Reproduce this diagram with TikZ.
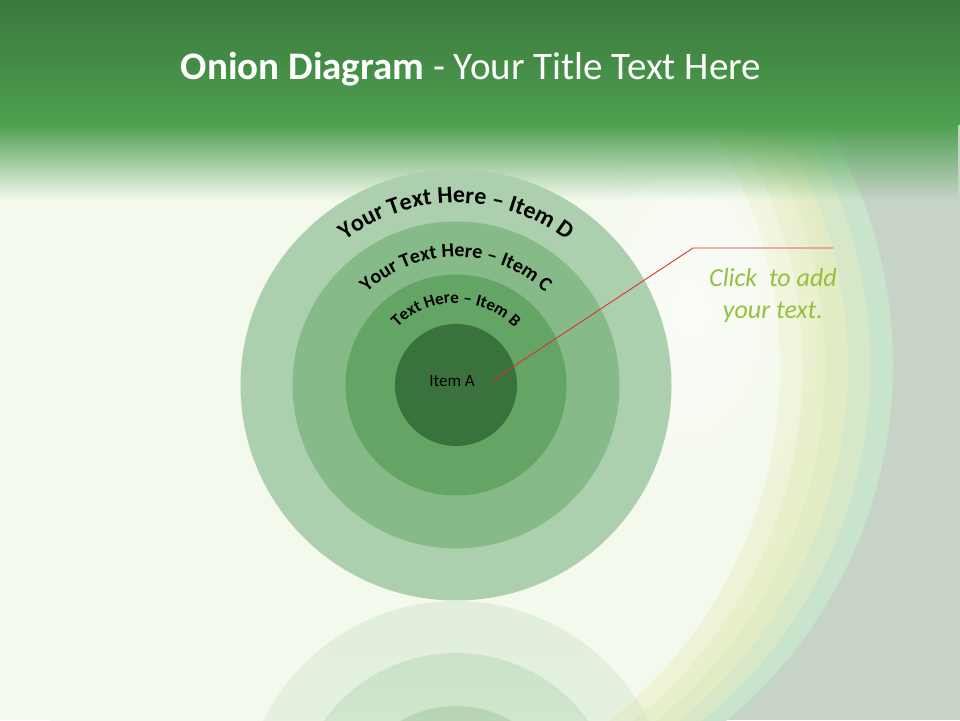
\documentclass[tikz,border=0pt]{standalone}
\usepackage{fontspec}
\setmainfont{Carlito}
\usepackage{tikz}
\usetikzlibrary{positioning, decorations.text, fadings}
\definecolor{HeaderTop}{RGB}{58,120,60}
\definecolor{HeaderBottom}{RGB}{78,160,80}
\definecolor{BackPale}{RGB}{243,249,236}
\definecolor{BackGrey}{RGB}{200,211,200}
\definecolor{BandA}{RGB}{200,228,204}
\definecolor{BandB}{RGB}{214,232,200}
\definecolor{BandC}{RGB}{226,236,196}
\definecolor{BandD}{RGB}{232,239,203}
\definecolor{BandE}{RGB}{238,243,216}
\definecolor{RingD}{RGB}{172,208,173}
\definecolor{RingC}{RGB}{134,186,136}
\definecolor{RingB}{RGB}{100,165,102}
\definecolor{RingA}{RGB}{57,114,60}
\definecolor{PointerRed}{RGB}{224,48,48}
\definecolor{ClickGreen}{RGB}{146,194,62}
\tikzfading[name=headfade, top color=transparent!0, middle color=transparent!75, bottom color=transparent!100]
\tikzfading[name=reflfade, top color=transparent!0, bottom color=transparent!100]
\tikzfading[name=glow, inner color=transparent!35, outer color=transparent!100]
\tikzstyle{ring} = [circle, inner sep=0pt, draw=none]
\tikzstyle{curvetext} = [decorate, decoration={text along path, text align=center}]
\tikzstyle{pointer} = [PointerRed, line width=0.9pt]
\newcommand{\itemDfont}{\bfseries\fontsize{24}{28}\selectfont}
\newcommand{\itemCfont}{\bfseries\fontsize{20}{24}\selectfont}
\newcommand{\itemBfont}{\bfseries\fontsize{17}{20}\selectfont}

\begin{document}
\begin{tikzpicture}[x=1pt,y=1pt]
  \useasboundingbox (0,0) rectangle (960,720);

  % Background and arcs
  \begin{scope}
    \clip (0,0) rectangle (960,720);
    \fill[BackGrey] (0,0) rectangle (960,720);
    \foreach \i/\col in {0/BandA,1/BandB,2/BandC,3/BandD,4/BandE} {
      \fill[\col] ({430-20*\i},{355-0.6*\i}) circle ({463-2.6*\i});
    }
    \fill[BackPale] (330,352) circle (450);
    \fill[BackPale] (0,0) rectangle (420,720);
    \fill[white, path fading=glow] (690,410) ellipse (140 and 240);
  \end{scope}

  % Header
  \fill[top color=HeaderTop, bottom color=HeaderBottom] (0,595) rectangle (960,720);
  \fill[HeaderBottom, path fading=headfade] (0,520) rectangle (960,595);
  \node[anchor=base, text=white, font=\fontsize{39}{47}\selectfont] (title) at (471,640)
    {\textbf{Onion Diagram} - Your Title Text Here};

  % Reflection
  \begin{scope}
    \clip (0,0) rectangle (960,720);
    \foreach \r/\col in {215/RingD,163/RingC,110/RingB,61/RingA}
      \fill[\col, fill opacity=0.25, path fading=reflfade] (456,-96) circle (\r);
  \end{scope}

  % Onion
  \node[ring, fill=RingD, minimum size=431pt] (ringD) at (456,335) {};
  \node[ring, fill=RingC, minimum size=327pt] (ringC) at (456,335) {};
  \node[ring, fill=RingB, minimum size=221pt] (ringB) at (456,335) {};
  \node[ring, fill=RingA, minimum size=122pt] (ringA) at (456,335) {};

  % Labels
  \path[curvetext, decoration={text={|\itemDfont|Your Text Here – Item D}}]
    (ringD.center) ++(170:182) arc[start angle=170, end angle=10, radius=182];
  \path[curvetext, decoration={text={|\itemCfont|Your Text Here – Item C}}]
    (ringC.center) ++(170:128) arc[start angle=170, end angle=10, radius=128];
  \path[curvetext, decoration={text={|\itemBfont|Text Here – Item B}}]
    (ringB.center) ++(175:82) arc[start angle=175, end angle=5, radius=82];
  \node[font=\fontsize{17}{20}\selectfont] (itemA) at (452,339) {Item A};

  % Callout
  \coordinate (tip) at (493,340);
  \coordinate (bend) at (693,472);
  \coordinate (calloutEnd) at (833,472);
  \draw[pointer] (tip) -- (bend) -- (calloutEnd);
  \node[align=center, text=ClickGreen, font=\itshape\fontsize{26}{32}\selectfont] (click) at (773,424)
    {Click\ \ to add\\your text.};
\end{tikzpicture}
\end{document}
